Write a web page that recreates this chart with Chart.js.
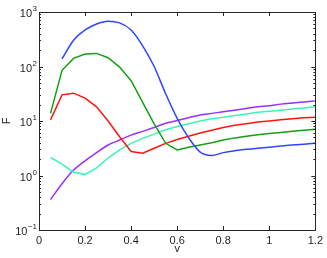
<!DOCTYPE html>
<html>
<head>
<meta charset="utf-8">
<script src="https://cdn.jsdelivr.net/npm/chart.js@4.4.1/dist/chart.umd.min.js"></script>
<style>
  html, body { margin: 0; padding: 0; background: #fff; }
  #wrap { width: 327px; height: 258px; }
</style>
</head>
<body>
<div id="wrap"><canvas id="chart"></canvas></div>
<script>
// v values shared by all curves
const vValues = [0.05, 0.1, 0.15, 0.2, 0.25, 0.3, 0.35, 0.4, 0.45, 0.5, 0.55, 0.6,
                 0.65, 0.7, 0.75, 0.8, 0.85, 0.9, 0.95, 1.0, 1.05, 1.1, 1.15, 1.2];

const blueF   = [null, 138, 302, 468, 603, 676, 631, 468, 240, 100, 31.6, 11.2,
                 4.9, 2.69, 2.34, 2.63, 2.85, 3.02, 3.16, 3.31, 3.47, 3.63, 3.76, 3.89];
const greenF  = [13.8, 85.1, 141, 170, 174, 145, 97.7, 55.0, 22.0, 8.9, 3.9, 2.95,
                 3.31, 3.63, 3.98, 4.47, 4.90, 5.25, 5.62, 5.89, 6.17, 6.46, 6.76, 7.08];
const redF    = [10.5, 30.2, 32.4, 26.3, 18.2, 10.0, 5.13, 2.75, 2.57, 3.16, 3.89, 4.57,
                 5.25, 6.03, 6.76, 7.59, 8.32, 8.91, 9.55, 10.0, 10.5, 11.0, 11.5, 11.7];
const cyanF   = [2.14, 1.62, 1.15, 1.05, 1.38, 2.09, 2.95, 3.89, 4.79, 5.75, 6.92, 7.94,
                 8.91, 10.0, 11.0, 11.7, 12.6, 13.5, 14.5, 15.1, 15.8, 16.6, 17.4, 18.2];
const purpleF = [0.363, 0.708, 1.26, 1.86, 2.63, 3.63, 4.47, 5.50, 6.46, 7.59, 9.12, 10.2,
                 11.5, 12.9, 13.8, 14.8, 15.8, 17.0, 18.2, 19.1, 20.4, 21.4, 22.4, 23.4];

const xTicks = [0, 0.2, 0.4, 0.6, 0.8, 1.0, 1.2];
const yExponents = [-1, 0, 1, 2, 3];

const axisColor = '#262626';

function toPoints(ys) {
    return vValues.map((v, i) => ({ x: v, y: ys[i] }));
}

function series(data, color, smooth) {
    return {
        data: toPoints(data),
        borderColor: color,
        borderWidth: 1.5,
        pointRadius: 0,
        fill: false,
        tension: smooth ? 0.4 : 0,
        cubicInterpolationMode: smooth ? 'monotone' : 'default'
    };
}

// box, inward ticks and 10^n labels, matlab style
const frameTicks = {
    id: 'frameTicks',
    afterDraw(chart) {
        const { ctx, chartArea: a, scales: { x, y } } = chart;
        ctx.save();
        ctx.strokeStyle = axisColor;
        ctx.lineWidth = 1;
        ctx.beginPath();
        xTicks.forEach(v => {
            const px = Math.round(x.getPixelForValue(v)) + 0.5;
            ctx.moveTo(px, a.bottom); ctx.lineTo(px, a.bottom - 4);
            ctx.moveTo(px, a.top); ctx.lineTo(px, a.top + 4);
        });
        yExponents.forEach(e => {
            for (let m = 1; m <= 9; m++) {
                const val = m * Math.pow(10, e);
                if (val > 1000) break;
                const py = Math.round(y.getPixelForValue(val)) + 0.5;
                const len = m === 1 ? 4 : 2;
                ctx.moveTo(a.left, py); ctx.lineTo(a.left + len, py);
                ctx.moveTo(a.right, py); ctx.lineTo(a.right - len, py);
            }
        });
        ctx.stroke();
        ctx.strokeRect(Math.round(a.left) + 0.5, Math.round(a.top) + 0.5,
                       Math.round(a.right - a.left), Math.round(a.bottom - a.top));

        ctx.fillStyle = axisColor;
        ctx.textBaseline = 'middle';
        yExponents.forEach(e => {
            const py = y.getPixelForValue(Math.pow(10, e));
            const exp = e < 0 ? '\u2212' + (-e) : String(e);
            ctx.font = '8px "Liberation Sans", Arial, sans-serif';
            ctx.textAlign = 'right';
            const ex = a.left - 2;
            ctx.fillText(exp, ex, py - 3);
            const w = ctx.measureText(exp).width;
            ctx.font = '11px "Liberation Sans", Arial, sans-serif';
            ctx.fillText('10', ex - w - 0.5, py + 2);
        });
        ctx.restore();
    }
};

new Chart(document.getElementById('chart'), {
    type: 'line',
    data: {
        datasets: [
            series(blueF, '#2f45ff', true),
            series(greenF, '#14a014', false),
            series(redF, '#ff1414', false),
            series(cyanF, '#3cf5b4', false),
            series(purpleF, '#9830ff', true)
        ]
    },
    options: {
        responsive: true,
        maintainAspectRatio: false,
        animation: false,
        layout: { padding: { top: 12, right: 11, left: 0, bottom: 0 } },
        plugins: { legend: { display: false }, tooltip: { enabled: false } },
        scales: {
            x: {
                type: 'linear',
                min: 0,
                max: 1.2,
                afterFit: (s) => { s.height = 28; },
                afterBuildTicks: (s) => { s.ticks = xTicks.map(v => ({ value: v })); },
                grid: { display: false, drawTicks: false },
                border: { display: false },
                ticks: {
                    padding: 4,
                    color: axisColor,
                    font: { family: '"Liberation Sans", Arial, sans-serif', size: 11 },
                    callback: (v) => String(Number(v.toFixed(1)))
                },
                title: {
                    display: true,
                    text: 'v',
                    color: axisColor,
                    padding: { top: 0, bottom: 2 },
                    font: { family: '"Liberation Sans", Arial, sans-serif', size: 11 }
                }
            },
            y: {
                type: 'logarithmic',
                min: 0.1,
                max: 1000,
                afterFit: (s) => { s.width = 39; },
                grid: { display: false, drawTicks: false },
                border: { display: false },
                ticks: { display: false },
                title: {
                    display: true,
                    text: 'F',
                    color: axisColor,
                    padding: { top: 0, bottom: 0 },
                    font: { family: '"Liberation Sans", Arial, sans-serif', size: 11 }
                }
            }
        }
    },
    plugins: [frameTicks]
});
</script>
</body>
</html>
